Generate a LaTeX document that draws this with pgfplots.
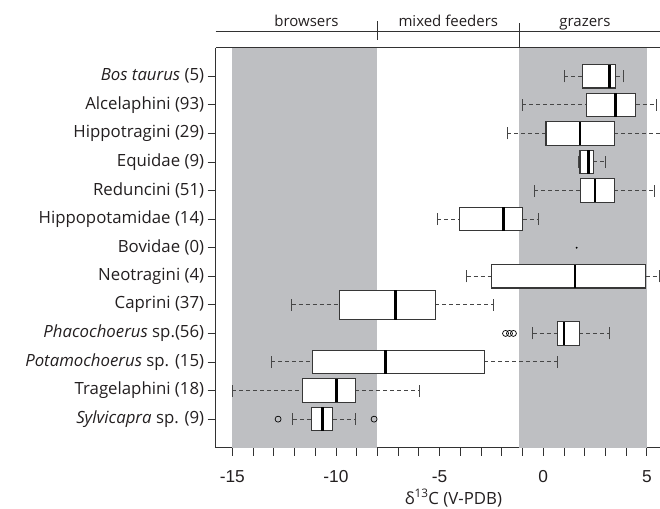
\documentclass[border=0pt]{standalone}
\usepackage{fontspec}
\setmainfont{Open Sans}
\newfontfamily\tickfont{Liberation Sans}
\usepackage{pgfplots}
\pgfplotsset{compat=1.18}
\usepgfplotslibrary{statistics}
\usetikzlibrary{calc}
\definecolor{bandc}{RGB}{190,191,194}
\definecolor{boxc}{RGB}{55,55,55}
\definecolor{wc}{RGB}{70,70,70}
\definecolor{axc}{RGB}{50,50,50}
\definecolor{txtc}{RGB}{35,31,32}
\pgfplotsset{
 mybox/.style={
   boxplot/draw direction=x,
   boxplot/box extend=0.82,
   boxplot/whisker extend=0.42,
   boxplot/every box/.style={draw=boxc, fill=white, line width=1.1pt},
   boxplot/every median/.style={draw=black, line width=2.6pt},
   boxplot/draw/lower whisker/.code={
     \draw[wc, line width=1pt, dash pattern=on 4pt off 3pt]
       (boxplot box cs:\pgfplotsboxplotvalue{lower whisker},0.5) --
       (boxplot box cs:\pgfplotsboxplotvalue{lower quartile},0.5);
     \draw[wc, line width=1pt]
       (boxplot whisker cs:\pgfplotsboxplotvalue{lower whisker},0) --
       (boxplot whisker cs:\pgfplotsboxplotvalue{lower whisker},1);
   },
   boxplot/draw/upper whisker/.code={
     \draw[wc, line width=1pt, dash pattern=on 4pt off 3pt]
       (boxplot box cs:\pgfplotsboxplotvalue{upper quartile},0.5) --
       (boxplot box cs:\pgfplotsboxplotvalue{upper whisker},0.5);
     \draw[wc, line width=1pt]
       (boxplot whisker cs:\pgfplotsboxplotvalue{upper whisker},0) --
       (boxplot whisker cs:\pgfplotsboxplotvalue{upper whisker},1);
   },
 },
 outl/.style={only marks, mark=o, mark size=3pt, mark options={solid, draw=black, line width=0.7pt}},
}
\begin{document}
\begin{tikzpicture}[font=\fontsize{16.8}{19}\selectfont, text=txtc]
\begin{axis}[
  scale only axis, width=444.3pt, height=400pt,
  xmin=-15.8, xmax=5.63, ymin=0, ymax=14,
  axis x line*=box, axis y line*=left,
  axis line style={axc, line width=0.9pt, -},
  clip mode=individual,
  xtick={-15,-10,-5,0,5}, xticklabels={-15,-10,-5,0,5},
  minor xtick={-14,-13,-12,-11,-9,-8,-7,-6,-4,-3,-2,-1,1,2,3,4},
  xtick pos=left, ytick pos=left,
  tick align=outside, major tick length=8pt, minor tick length=8pt,
  tick style={axc, line width=0.9pt},
  xticklabel style={font=\tickfont\fontsize{17.3}{20}\selectfont, anchor=base, yshift=-26.5pt},
  yticklabel style={font=\fontsize{16.8}{19}\selectfont},
  ytick={1,...,13},
  yticklabels={{\textit{Sylvicapra} sp. (9)},{Tragelaphini (18)},{\textit{Potamochoerus} sp. (15)},{\textit{Phacochoerus} sp.(56)},{Caprini (37)},{Neotragini (4)},{Bovidae (0)},{Hippopotamidae (14)},{Reduncini (51)},{Equidae (9)},{Hippotragini (29)},{Alcelaphini (93)},{\textit{Bos taurus} (5)}},
  xlabel={δ\textsuperscript{13}C (V-PDB)},
  xlabel style={at={(rel axis cs:0.535,0)}, anchor=base, yshift=-56.5pt, inner sep=0pt},
  after end axis/.code={
    \coordinate (sw) at (rel axis cs:0,0);
    \coordinate (ne) at (rel axis cs:1,1);
    \draw[axc, line width=0.9pt] (axis cs:-15.8,14.585) -- (axis cs:5.63,14.585);
    \draw[axc, line width=0.9pt] (axis cs:-8,14.93) -- (axis cs:-8,14.27);
    \draw[axc, line width=0.9pt] (axis cs:-1.15,14.86) -- (axis cs:-1.15,14.0);
    \node[anchor=base, inner sep=0pt, font=\fontsize{15}{18}\selectfont] at (axis cs:-11.42,14.73) {browsers};
    \node[anchor=base, inner sep=0pt, font=\fontsize{15}{18}\selectfont] at (axis cs:-4.58,14.73) {mixed feeders};
    \node[anchor=base, inner sep=0pt, font=\fontsize{15}{18}\selectfont] at (axis cs:2.01,14.73) {grazers};
  },
]
% shaded diet zones
\addplot[fill=bandc, draw=none] coordinates {(-15,14) (-8,14)} \closedcycle;
\addplot[fill=bandc, draw=none] coordinates {(-1.15,14) (5,14)} \closedcycle;

% Bos taurus
\addplot[mybox, boxplot prepared={draw position=13, lower whisker=1.01, lower quartile=1.90, median=3.19, upper quartile=3.49, upper whisker=3.89}] coordinates {};
% Alcelaphini
\addplot[mybox, boxplot prepared={draw position=12, lower whisker=-1.01, lower quartile=2.09, median=3.49, upper quartile=4.46, upper whisker=5.44}] coordinates {};
% Hippotragini
\addplot[mybox, boxplot prepared={draw position=11, lower whisker=-1.74, lower quartile=0.13, median=1.77, upper quartile=3.43, upper whisker=6.3}] coordinates {};
% Equidae
\addplot[mybox, boxplot prepared={draw position=10, lower whisker=1.72, lower quartile=1.77, median=2.17, upper quartile=2.41, upper whisker=2.98}] coordinates {};
% Reduncini
\addplot[mybox, boxplot prepared={draw position=9, lower whisker=-0.43, lower quartile=1.80, median=2.50, upper quartile=3.43, upper whisker=5.36}] coordinates {};
% Hippopotamidae
\addplot[mybox, boxplot prepared={draw position=8, lower whisker=-5.12, lower quartile=-4.02, median=-1.93, upper quartile=-0.99, upper whisker=-0.24}] coordinates {};
% Bovidae
\addplot[only marks, mark=*, mark size=0.7pt, black] coordinates {(1.61,7)};
% Neotragini
\addplot[mybox, boxplot prepared={draw position=6, lower whisker=-3.70, lower quartile=-2.49, median=1.53, upper quartile=4.94, upper whisker=5.60}] coordinates {};
% Caprini
\addplot[mybox, boxplot/box extend=1.03, boxplot prepared={draw position=5, lower whisker=-12.14, lower quartile=-9.81, median=-7.12, upper quartile=-5.22, upper whisker=-2.41}] coordinates {};
% Phacochoerus
\addplot[mybox, boxplot prepared={draw position=4, lower whisker=-0.51, lower quartile=0.69, median=1.0, upper quartile=1.74, upper whisker=3.19}] coordinates {};
\addplot[outl] coordinates {(-1.82,4) (-1.63,4) (-1.44,4)};
% Potamochoerus
\addplot[mybox, boxplot prepared={draw position=3, lower whisker=-13.11, lower quartile=-11.15, median=-7.61, upper quartile=-2.85, upper whisker=0.69}] coordinates {};
% Tragelaphini
\addplot[mybox, boxplot prepared={draw position=2, lower whisker=-15.0, lower quartile=-11.6, median=-9.96, upper quartile=-9.07, upper whisker=-5.95}] coordinates {};
% Sylvicapra
\addplot[mybox, boxplot prepared={draw position=1, lower whisker=-12.08, lower quartile=-11.16, median=-10.65, upper quartile=-10.15, upper whisker=-9.06}] coordinates {};
\addplot[outl] coordinates {(-12.79,1) (-8.16,1)};
\end{axis}
\pgfresetboundingbox
\path[use as bounding box] ($(sw)+(-215.7pt,-60.3pt)$) rectangle ($(ne)+(0pt,47.7pt)$);
\end{tikzpicture}
\end{document}
